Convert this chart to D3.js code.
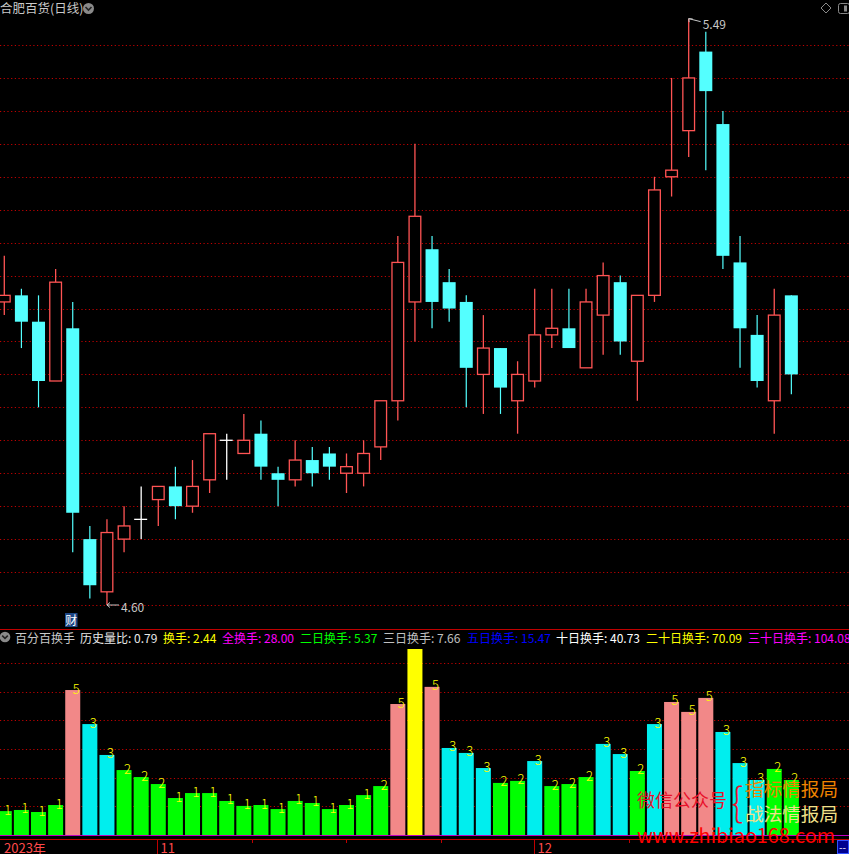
<!DOCTYPE html>
<html><head><meta charset="utf-8">
<script src="https://cdn.jsdelivr.net/npm/d3@7"></script>
<style>
html,body{margin:0;padding:0;background:#000;}
svg{display:block;}
text{font-family:"Noto Sans CJK SC","Noto Sans",sans-serif;}
</style></head>
<body>
<script>
// ---------- data ----------
const dates = ["10-19","10-20","10-23","10-24","10-25","10-26","10-27","10-30","10-31",
  "11-01","11-02","11-03","11-06","11-07","11-08","11-09","11-10","11-13","11-14","11-15","11-16","11-17",
  "11-20","11-21","11-22","11-23","11-24","11-27","11-28","11-29","11-30",
  "12-01","12-04","12-05","12-06","12-07","12-08","12-11","12-12","12-13","12-14","12-15",
  "12-18","12-19","12-20","12-21","12-22"];
const open  = [5.06,5.07,5.03,4.94,5.02,4.70,4.62,4.70,4.73,4.76,4.78,4.75,4.79,4.85,4.83,4.86,4.80,4.79,4.82,4.83,4.80,4.80,4.84,4.91,5.06,5.14,5.09,5.06,4.95,4.99,4.91,4.94,5.01,5.02,4.96,5.04,5.09,4.97,5.07,5.25,5.32,5.44,5.33,5.12,5.01,4.91,5.07];
const close = [5.07,5.03,4.94,5.09,4.74,4.63,4.71,4.72,4.73,4.78,4.75,4.78,4.86,4.85,4.85,4.81,4.79,4.82,4.80,4.81,4.81,4.83,4.91,5.12,5.19,5.06,5.05,4.96,4.99,4.93,4.95,5.01,5.02,4.99,5.06,5.10,5.00,5.07,5.23,5.26,5.40,5.38,5.13,5.02,4.94,5.04,4.95];
const high  = [5.13,5.08,5.07,5.11,5.06,4.72,4.73,4.75,4.78,4.78,4.81,4.82,4.86,4.86,4.89,4.88,4.81,4.85,4.84,4.84,4.83,4.85,4.91,5.16,5.30,5.16,5.11,5.07,5.04,4.99,4.97,5.08,5.08,5.08,5.08,5.12,5.10,5.07,5.25,5.40,5.49,5.47,5.35,5.16,5.04,5.08,5.07];
const low   = [5.04,4.99,4.90,4.94,4.68,4.61,4.60,4.68,4.70,4.72,4.73,4.74,4.77,4.79,4.83,4.79,4.75,4.78,4.78,4.79,4.77,4.78,4.82,4.88,5.00,5.02,5.03,4.90,4.89,4.89,4.86,4.93,4.99,4.99,4.96,4.98,4.98,4.91,5.06,5.22,5.28,5.26,5.11,4.96,4.93,4.86,4.92];
const priceGrid = [4.60,4.65,4.70,4.75,4.80,4.85,4.90,4.95,5.00,5.05,5.10,5.15,5.20,5.25,5.30,5.35,5.40,5.45];

// turnover (%) and level class per day (9 = limit-up day, no label)
const turnover = [1.06,1.11,1.02,1.33,6.43,4.92,3.55,2.88,2.57,2.26,1.64,1.86,1.86,1.51,1.29,1.33,1.15,1.51,1.42,1.15,1.33,1.77,2.17,5.81,8.25,6.57,3.86,3.64,2.97,2.31,2.40,3.28,2.17,2.26,2.57,4.04,3.59,2.84,4.92,5.90,5.46,6.08,4.57,3.19,2.44,2.93,2.44];
const level    = [1,1,1,1,5,3,3,2,2,2,1,1,1,1,1,1,1,1,1,1,1,1,2,5,9,5,3,3,3,2,2,3,2,2,2,3,3,2,3,5,5,5,3,3,3,2,2];
const turnGrid = [1.27,2.55,3.82,5.09,6.36,7.64];
const levelColor = {1:"#00ff00",2:"#00ff00",3:"#00eeee",5:"#f28888",9:"#ffff00"};

const title = "合肥百货(日线)";
const indicatorHeader = [
  {t:"百分百换手", c:"#c8c8c8"},
  {t:"历史量比: 0.79", c:"#e8e8e8"},
  {t:"换手: 2.44", c:"#ffff00"},
  {t:"全换手: 28.00", c:"#ff00ff"},
  {t:"二日换手: 5.37", c:"#00ff00"},
  {t:"三日换手: 7.66", c:"#c0c0c0"},
  {t:"五日换手: 15.47", c:"#0000ff"},
  {t:"十日换手: 40.73", c:"#ffffff"},
  {t:"二十日换手: 70.09", c:"#ffff00"},
  {t:"三十日换手: 104.08", c:"#ff00ff"}
];
const headerX = [15,80,163,222,300,383,467,556,646,748];
const yearLabel = "2023年";
const minorTickIdx = [14.5,20,25.5,36.5,42,47.5];

// ---------- layout ----------
const W = 849, H = 854, n = dates.length;
const svg = d3.select("body").append("svg").attr("width",W).attr("height",H).style("background","#000");

const step = 17.11, x0 = -4.26;
const xC = d3.scaleBand().domain(d3.range(n)).range([x0, x0 + step*n]).paddingInner(0.24).paddingOuter(0.12);
const xB = d3.scaleBand().domain(d3.range(n)).range([x0, x0 + step*n]).paddingInner(0.123).paddingOuter(0.0615);
const xi = d3.scaleLinear().domain([0, n-1]).range([x0 + step/2, x0 + step/2 + step*(n-1)]);
const y = d3.scaleLinear().domain([4.60, 5.45]).range([605, 45]);
const yb = d3.scaleLinear().domain([0, 8.25]).range([835, 649]);

const gridColor = "#c00000";
const UP = "#ff5454", DOWN = "#54ffff";

// ---------- top header ----------
svg.append("text").attr("x",0).attr("y",13).attr("font-size",12.5).attr("fill","#c8c8c8").text(title);
const ic = svg.append("g");
ic.append("circle").attr("cx",88.5).attr("cy",8.5).attr("r",5.5).attr("fill","#8a8a8a");
ic.append("path").attr("d","M85.5,7 L88.5,10 L91.5,7").attr("stroke","#222").attr("stroke-width",1.6).attr("fill","none");
svg.append("path").attr("d","M826,3 L831,8 L826,13 L821,8 Z").attr("stroke","#8a8a8a").attr("fill","none");
svg.append("rect").attr("x",838.5).attr("y",3.5).attr("width",11).attr("height",10).attr("rx",2).attr("stroke","#8a8a8a").attr("fill","none");
svg.append("rect").attr("x",844).attr("y",5.5).attr("width",3).attr("height",6).attr("fill","#8a8a8a");

// ---------- price grid ----------
svg.append("g").selectAll("line").data(priceGrid).join("line")
  .attr("x1",0).attr("x2",W).attr("y1",d=>Math.round(y(d))+0.5).attr("y2",d=>Math.round(y(d))+0.5)
  .attr("stroke",gridColor).attr("stroke-width",1).attr("stroke-dasharray","1.2,2.5");

// ---------- candles ----------
const bw = xC.bandwidth();
const cg = svg.append("g");
d3.range(n).forEach(i => {
  const o = open[i], c = close[i], h = high[i], l = low[i];
  const xc = xC(i) + bw/2;
  if (c > o) {
    const top = y(c), bot = y(o);
    cg.append("line").attr("x1",xc).attr("x2",xc).attr("y1",y(h)).attr("y2",top).attr("stroke",UP).attr("stroke-width",1.3);
    cg.append("line").attr("x1",xc).attr("x2",xc).attr("y1",bot).attr("y2",y(l)).attr("stroke",UP).attr("stroke-width",1.3);
    cg.append("rect").attr("x",xC(i)+0.65).attr("width",bw-1.3).attr("y",top).attr("height",bot-top)
      .attr("fill","#000").attr("stroke",UP).attr("stroke-width",1.3);
  } else if (c < o) {
    cg.append("line").attr("x1",xc).attr("x2",xc).attr("y1",y(h)).attr("y2",y(l)).attr("stroke",DOWN).attr("stroke-width",1.2);
    cg.append("rect").attr("x",xC(i)).attr("width",bw).attr("y",y(o)).attr("height",y(c)-y(o)).attr("fill",DOWN);
  } else {
    cg.append("line").attr("x1",xc).attr("x2",xc).attr("y1",y(h)).attr("y2",y(l)).attr("stroke","#fff").attr("stroke-width",1.3);
    cg.append("line").attr("x1",xC(i)-0.5).attr("x2",xC(i)+bw-0.5).attr("y1",y(o)).attr("y2",y(o)).attr("stroke","#fff").attr("stroke-width",1.3);
  }
});

// high / low markers
const hiIdx = d3.maxIndex(high), loIdx = d3.minIndex(low);
{
  const xc = xC(hiIdx)+bw/2, yy = y(high[hiIdx]);
  svg.append("path").attr("d",`M${xc},${yy} L${xc+12},${yy+3} M${xc},${yy} l4,0.3 M${xc},${yy} l0.5,3.5`)
    .attr("stroke","#c8c8c8").attr("fill","none").attr("stroke-width",1);
  svg.append("text").attr("x",xc+14).attr("y",yy+10).attr("font-size",12).attr("fill","#c8c8c8")
    .attr("font-family","Noto Sans").text(high[hiIdx].toFixed(2));
}
{
  const xc = xC(loIdx)+bw/2, yy = y(low[loIdx]);
  svg.append("path").attr("d",`M${xc},${yy} L${xc+12},${yy} M${xc},${yy} l3,-2.5 M${xc},${yy} l3,2.5`)
    .attr("stroke","#c8c8c8").attr("fill","none").attr("stroke-width",1);
  svg.append("text").attr("x",xc+14).attr("y",yy+6.5).attr("font-size",12).attr("fill","#c8c8c8")
    .attr("font-family","Noto Sans").text(low[loIdx].toFixed(2));
}

// "财" marker
svg.append("rect").attr("x",65).attr("y",613).attr("width",12.5).attr("height",14).attr("fill","#1c4584");
svg.append("text").attr("x",71.2).attr("y",624.5).attr("text-anchor","middle").attr("font-size",12).attr("fill","#fff").text("财");

// separator
svg.append("line").attr("x1",0).attr("x2",W).attr("y1",629.5).attr("y2",629.5).attr("stroke","#c00000");

// ---------- indicator header ----------
svg.append("circle").attr("cx",5).attr("cy",637).attr("r",5.3).attr("fill","#8a8a8a");
svg.append("path").attr("d","M2.2,635.6 L5,638.4 L7.8,635.6").attr("stroke","#222").attr("stroke-width",1.5).attr("fill","none");
svg.append("g").selectAll("text").data(indicatorHeader).join("text")
  .attr("x",(d,i)=>headerX[i]).attr("y",642.5).attr("font-size",12).attr("fill",d=>d.c).text(d=>d.t);

// ---------- turnover grid & bars ----------
svg.append("g").selectAll("line").data(turnGrid).join("line")
  .attr("x1",0).attr("x2",W).attr("y1",d=>Math.round(yb(d))+0.5).attr("y2",d=>Math.round(yb(d))+0.5)
  .attr("stroke",gridColor).attr("stroke-width",1).attr("stroke-dasharray","1.2,2.5");

const bb = xB.bandwidth();
const barData = turnover.map((v,i)=>({i, v, lv: level[i]}));
svg.append("g").selectAll("rect").data(barData).join("rect")
  .attr("x",d=>xB(d.i)).attr("width",bb)
  .attr("y",d=>yb(d.v)).attr("height",d=>yb(0)-yb(d.v))
  .attr("fill",d=>levelColor[d.lv]);

svg.append("g").selectAll("text").data(barData.filter(d=>d.lv !== 9)).join("text")
  .attr("x",d=>xB(d.i)+bb/2).attr("y",d=>yb(d.v)+3.5)
  .attr("font-size",13).attr("font-family","DejaVu Sans").attr("font-weight","300").attr("fill","#ffff00")
  .text(d=>d.lv);

// baseline + axis line
svg.append("line").attr("x1",0).attr("x2",W).attr("y1",835.5).attr("y2",835.5).attr("stroke","#c000c0");
svg.append("line").attr("x1",0).attr("x2",W).attr("y1",839.5).attr("y2",839.5).attr("stroke","#c00000");

// ---------- x axis ----------
const ax = svg.append("g");
ax.append("text").attr("x",4).attr("y",853).attr("font-size",13).attr("fill","#ff4a4a").text(yearLabel);
const monthStarts = d3.range(1,n).filter(i => dates[i].slice(0,2) !== dates[i-1].slice(0,2));
monthStarts.forEach(i => {
  const xx = Math.round(xi(i)) - 0.5;
  ax.append("line").attr("x1",xx).attr("x2",xx).attr("y1",839.5).attr("y2",854).attr("stroke","#c00000");
  ax.append("text").attr("x",xx+3).attr("y",853).attr("font-size",13).attr("fill","#ff4a4a").text(String(+dates[i].slice(0,2)));
});
minorTickIdx.forEach(k => {
  const xx = Math.round(xi(k)) + 0.5;
  ax.append("line").attr("x1",xx).attr("x2",xx).attr("y1",839.5).attr("y2",843).attr("stroke","#c00000");
});

// ---------- watermark ----------
const wm = svg.append("g");
wm.append("text").attr("x",637).attr("y",807).attr("font-size",18).attr("fill","#e8102a")
  .attr("textLength",90).attr("lengthAdjust","spacingAndGlyphs").text("微信公众号");
wm.append("text").attr("x",731).attr("y",817).attr("font-size",40).attr("fill","#e8102a")
  .attr("font-family","DejaVu Sans").attr("font-weight","300")
  .attr("textLength",12).attr("lengthAdjust","spacingAndGlyphs").text("{");
wm.append("text").attr("x",745).attr("y",796).attr("font-size",18).attr("fill","#f08400")
  .attr("textLength",93).attr("lengthAdjust","spacingAndGlyphs").text("指标情报局");
wm.append("text").attr("x",745).attr("y",821).attr("font-size",18).attr("fill","#f0e088")
  .attr("textLength",93).attr("lengthAdjust","spacingAndGlyphs").text("战法情报局");
wm.append("text").attr("x",637).attr("y",843).attr("font-size",20).attr("fill","#ff0000")
  .attr("font-family","DejaVu Sans")
  .attr("textLength",198).attr("lengthAdjust","spacingAndGlyphs").text("www.zhibiao168.com");

// bottom-right box
svg.append("rect").attr("x",837.5).attr("y",840.5).attr("width",11).attr("height",13).attr("fill","#000090").attr("stroke","#3050ff");
svg.append("text").attr("x",839).attr("y",851).attr("font-size",10).attr("fill","#fff").attr("font-family","DejaVu Sans").text("--");
</script>
</body></html>
